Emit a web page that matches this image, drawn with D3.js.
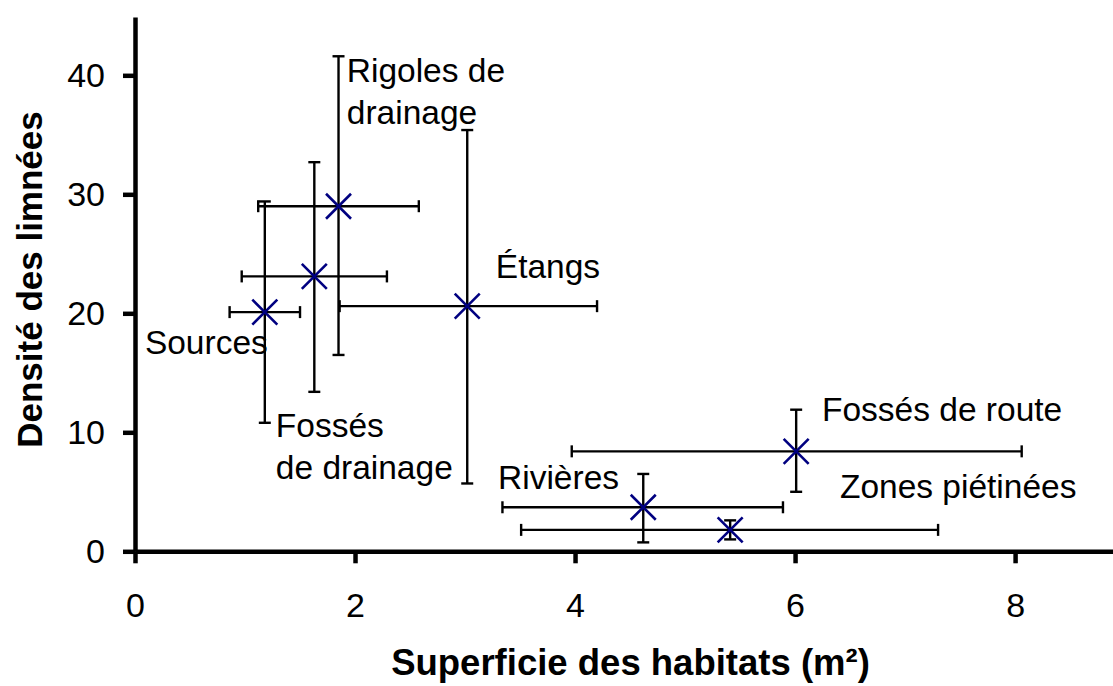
<!DOCTYPE html>
<html>
<head>
<meta charset="utf-8">
<script src="https://cdn.jsdelivr.net/npm/d3@7"></script>
<style>
  html, body { margin: 0; padding: 0; background: #fff; }
  svg { display: block; }
  text { font-family: "Liberation Sans", Arial, Helvetica, sans-serif; fill: #000; }
</style>
</head>
<body>
<svg id="chart" width="1113" height="686"></svg>
<script>
// ---- data ----
const habitats = ["Sources", "Fossés de drainage", "Rigoles de drainage", "Étangs", "Fossés de route", "Rivières", "Zones piétinées"];
const labelLines = [["Sources"], ["Fossés", "de drainage"], ["Rigoles de", "drainage"], ["Étangs"], ["Fossés de route"], ["Rivières"], ["Zones piétinées"]];
const areaMean = [1.18, 1.63, 1.85, 3.02, 6.01, 4.62, 5.41];
const areaLow  = [0.86, 0.97, 1.12, 1.86, 3.97, 3.34, 3.51];
const areaHigh = [1.50, 2.29, 2.58, 4.20, 8.06, 5.89, 7.30];
const densMean = [20.1, 23.1, 29.0, 20.6, 8.4, 3.7, 1.8];
const densLow  = [10.8, 13.4, 16.5, 5.7, 5.0, 0.75, 1.0];
const densHigh = [29.4, 32.7, 41.6, 35.4, 11.9, 6.5, 2.6];
const xTicks = [0, 2, 4, 6, 8];
const yTicks = [0, 10, 20, 30, 40];
const xTitle = "Superficie des habitats (m²)";
const yTitle = "Densité des limnées";

// ---- layout (label anchors in data units) ----
const labelAnchor = [[0.09, 16.6], [1.28, 9.6], [1.925, 39.44], [3.28, 22.97], [6.245, 10.95], [3.30, 5.24], [6.408, 4.48]];

const svg = d3.select("#chart");
const x = d3.scaleLinear().domain([0, 8.89]).range([135, 1113]);
const y = d3.scaleLinear().domain([0, 44.9]).range([551.3, 17]);
const navy = "#000080";

const pts = habitats.map((h, i) => ({
  name: h, lines: labelLines[i],
  x: areaMean[i], xl: areaLow[i], xh: areaHigh[i],
  y: densMean[i], yl: densLow[i], yh: densHigh[i],
  lx: labelAnchor[i][0], ly: labelAnchor[i][1]
}));

// axes
const xAxis = d3.axisBottom(x).tickValues(xTicks).tickSize(12).tickPadding(29.5).tickSizeOuter(0);
const yAxis = d3.axisLeft(y).tickValues(yTicks).tickSize(12).tickPadding(18).tickSizeOuter(0);

const gx = svg.append("g").attr("transform", `translate(0,${y(0)})`).call(xAxis);
const gy = svg.append("g").attr("transform", `translate(${x(0)},0)`).call(yAxis);

[gx, gy].forEach(g => {
  g.select(".domain").attr("stroke", "#000").attr("stroke-width", 4.5);
  g.selectAll(".tick line").attr("stroke", "#000").attr("stroke-width", 4.5);
  g.selectAll(".tick text").style("font-size", "34px").attr("fill", "#000")
    .style("font-family", "'Liberation Sans', Arial, sans-serif");
});

// error bars
const cap = 6;
const eb = svg.append("g").attr("stroke", "#000").attr("stroke-width", 2.4).attr("fill", "none");
pts.forEach(d => {
  const g = eb.append("g");
  g.append("line").attr("x1", x(d.xl)).attr("x2", x(d.xh)).attr("y1", y(d.y)).attr("y2", y(d.y));
  g.append("line").attr("x1", x(d.xl)).attr("x2", x(d.xl)).attr("y1", y(d.y) - cap).attr("y2", y(d.y) + cap);
  g.append("line").attr("x1", x(d.xh)).attr("x2", x(d.xh)).attr("y1", y(d.y) - cap).attr("y2", y(d.y) + cap);
  g.append("line").attr("x1", x(d.x)).attr("x2", x(d.x)).attr("y1", y(d.yl)).attr("y2", y(d.yh));
  g.append("line").attr("x1", x(d.x) - cap).attr("x2", x(d.x) + cap).attr("y1", y(d.yl)).attr("y2", y(d.yl));
  g.append("line").attr("x1", x(d.x) - cap).attr("x2", x(d.x) + cap).attr("y1", y(d.yh)).attr("y2", y(d.yh));
});

// markers (X)
const m = 12.5;
svg.append("g").selectAll("path").data(pts).join("path")
  .attr("d", d => {
    const cx = x(d.x), cy = y(d.y);
    return `M${cx - m},${cy - m}L${cx + m},${cy + m}M${cx - m},${cy + m}L${cx + m},${cy - m}`;
  })
  .attr("stroke", navy).attr("stroke-width", 2.6).attr("fill", "none");

// labels
const lbl = svg.append("g").selectAll("text").data(pts).join("text")
  .attr("x", d => x(d.lx)).attr("y", d => y(d.ly))
  .style("font-size", "33.5px");
lbl.each(function (d) {
  const t = d3.select(this);
  d.lines.forEach((ln, k) => {
    t.append("tspan").attr("x", x(d.lx)).attr("dy", k === 0 ? 0 : 42).text(ln);
  });
});

// axis titles
svg.append("text")
  .attr("x", 630.5).attr("y", 675)
  .attr("text-anchor", "middle")
  .style("font-size", "36.5px").style("font-weight", "bold")
  .text(xTitle);

svg.append("text")
  .attr("transform", `translate(41.5,279.5) rotate(-90)`)
  .attr("text-anchor", "middle")
  .style("font-size", "35px").style("font-weight", "bold")
  .text(yTitle);
</script>
</body>
</html>
